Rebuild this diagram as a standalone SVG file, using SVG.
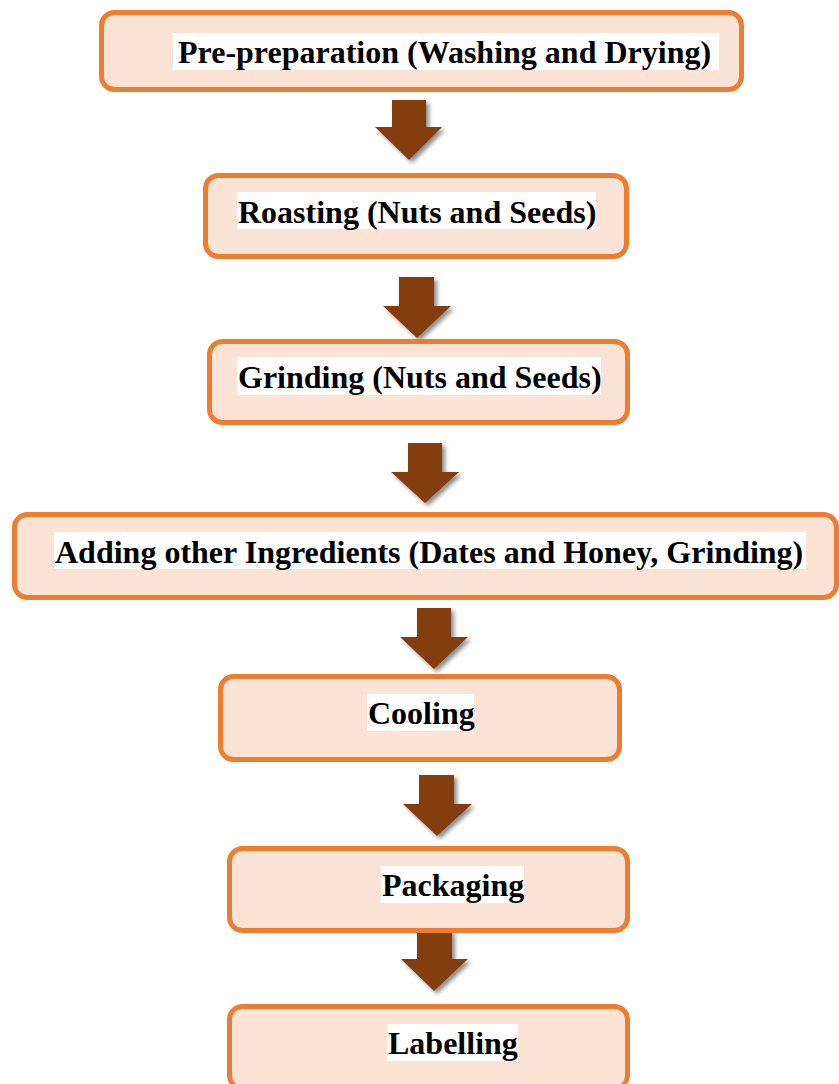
<svg xmlns="http://www.w3.org/2000/svg" width="839" height="1084" viewBox="0 0 839 1084">
<style>
.box{fill:#FBE4D5;stroke:#ED7D31;stroke-width:5}
.hl{fill:#FFFFFF}
.lbl{font-family:"Liberation Serif","Times New Roman",serif;font-weight:bold;font-size:32px;fill:#000000}
.arr{fill:#843C0C;filter:url(#sh)}
</style>
<defs>
<filter id="sh" x="-30%" y="-30%" width="170%" height="170%">
<feDropShadow dx="3" dy="3" stdDeviation="2" flood-color="#000000" flood-opacity="0.45"/>
</filter>
</defs>
<rect width="839" height="1084" fill="#FFFFFF"/>
<g id="connectors">
<polygon class="arr" points="392,100 426,100 426,127 442,127 409,160 375,127 392,127"/>
<polygon class="arr" points="399,277 434,277 434,306 451,306 417,338 383,306 399,306"/>
<polygon class="arr" points="408,443 442,443 442,472 459,472 425,503 391,472 408,472"/>
<polygon class="arr" points="417,608 451,608 451,637 468,637 434,669 400,637 417,637"/>
<polygon class="arr" points="419,775 454,775 454,804 472,804 437,836 403,804 419,804"/>
<polygon class="arr" points="417,930 452,930 452,959 468,959 434,991 401,959 417,959"/>
</g>
<g id="node1">
<rect class="box" x="101.5" y="12.5" width="640" height="77" rx="13"/>
<rect class="hl" x="173" y="33" width="546" height="37"/>
<text class="lbl" x="178" y="63">Pre-preparation (Washing and Drying)</text>
</g>
<g id="node2">
<rect class="box" x="205.5" y="175.5" width="421" height="81" rx="13"/>
<rect class="hl" x="237" y="192" width="359" height="37"/>
<text class="lbl" x="238" y="223">Roasting (Nuts and Seeds)</text>
</g>
<g id="node3">
<rect class="box" x="209.5" y="341.5" width="418" height="81" rx="13"/>
<rect class="hl" x="237" y="357" width="364" height="38"/>
<text class="lbl" x="238" y="388">Grinding (Nuts and Seeds)</text>
</g>
<g id="node4">
<rect class="box" x="14.5" y="514.5" width="822" height="83" rx="13"/>
<rect class="hl" x="54" y="532" width="752" height="37"/>
<text class="lbl" x="55" y="563">Adding other Ingredients (Dates and Honey, Grinding)</text>
</g>
<g id="node5">
<rect class="box" x="220.5" y="676.5" width="399" height="83" rx="13"/>
<rect class="hl" x="367" y="694" width="107" height="37"/>
<text class="lbl" x="368" y="724">Cooling</text>
</g>
<g id="node6">
<rect class="box" x="229.5" y="848.5" width="398" height="82" rx="13"/>
<rect class="hl" x="381" y="866" width="143" height="37"/>
<text class="lbl" x="382" y="896">Packaging</text>
</g>
<g id="node7">
<rect class="box" x="229.5" y="1006.5" width="398" height="82" rx="13"/>
<rect class="hl" x="387" y="1024" width="131" height="37"/>
<text class="lbl" x="388" y="1054">Labelling</text>
</g>
</svg>
